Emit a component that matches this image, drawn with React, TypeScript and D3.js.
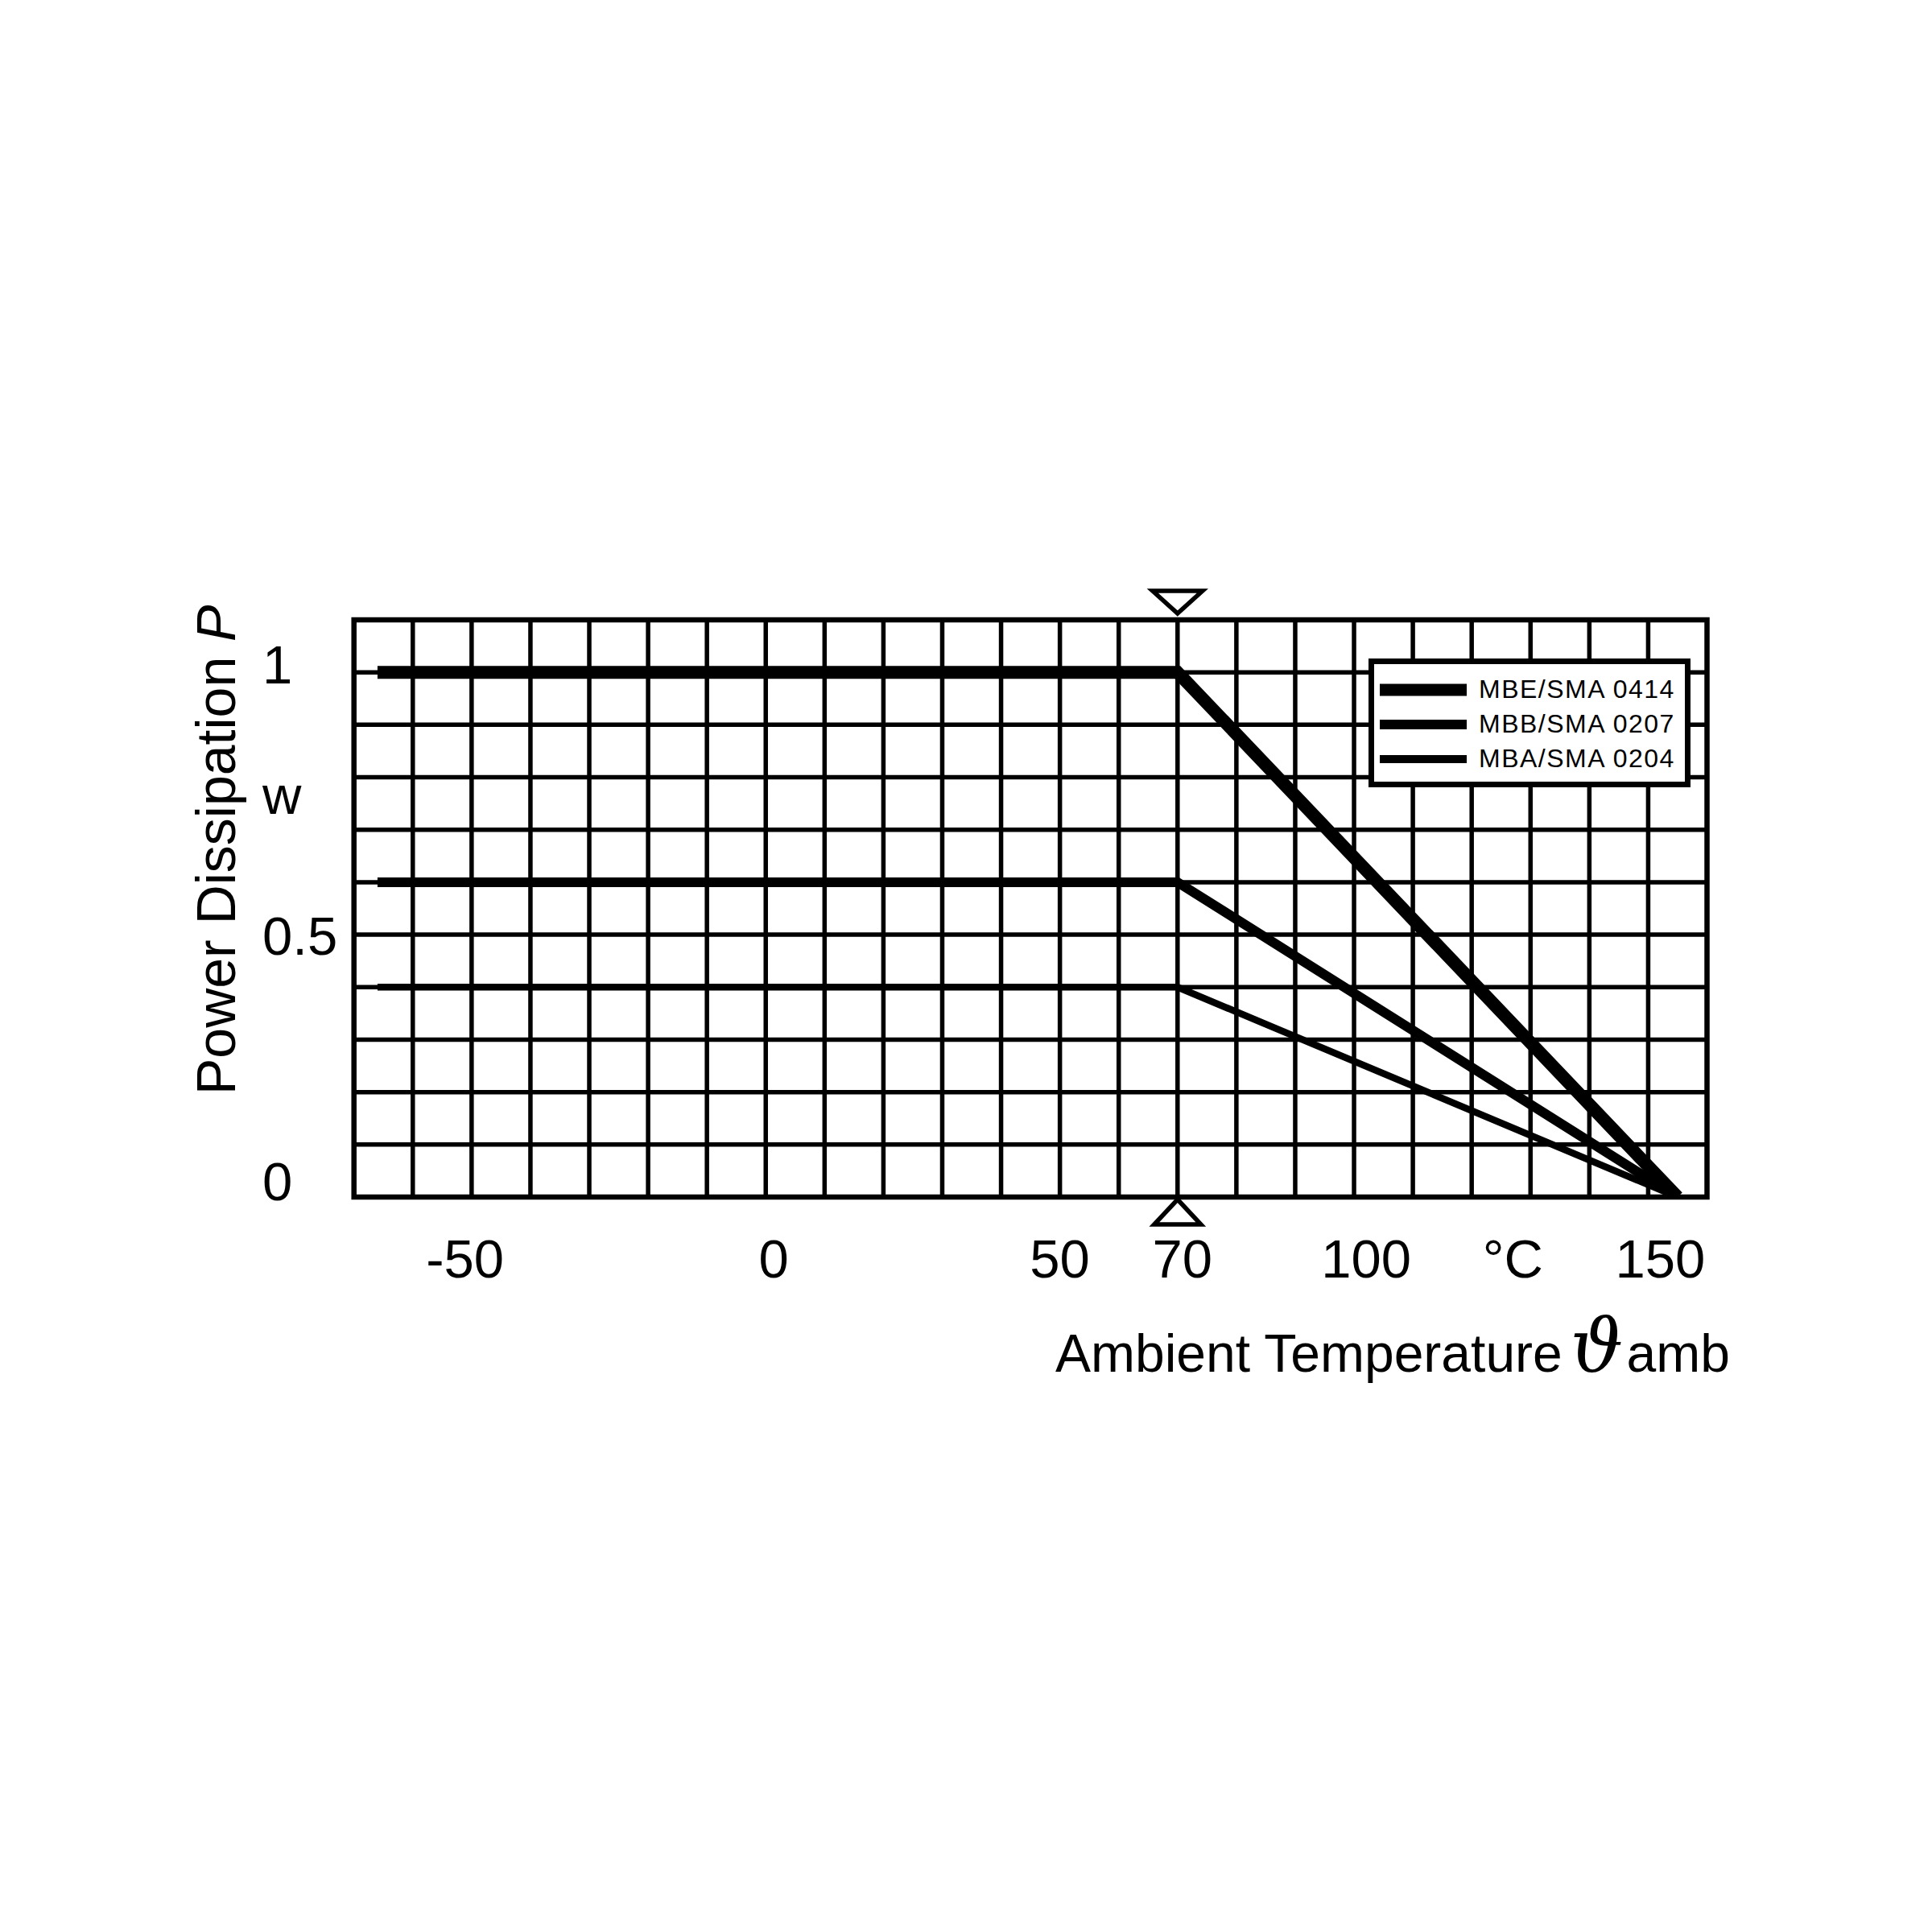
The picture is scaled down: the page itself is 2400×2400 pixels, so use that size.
import React from 'react';
import * as d3 from 'd3';

// ---- data ----
const tempDomain = [-70, 160];
const powerDomain = [0, 1.1];
const gridTempStep = 10;
const gridPowerStep = 0.1;

const seriesNames = ['MBE/SMA 0414', 'MBB/SMA 0207', 'MBA/SMA 0204'];
const curveTemps = [-66, 70, 155];
const powerMBE0414 = [1.0, 1.0, 0];
const powerMBB0207 = [0.6, 0.6, 0];
const powerMBA0204 = [0.4, 0.4, 0];

const xTickValues = [-50, 0, 50, 70, 100, 150];
const xTickLabels = ['-50', '0', '50', '70', '100', '150'];
const xUnitLabel = '°C';
const xUnitAt = 127;
const yTickValues = [0, 0.5, 1];
const yTickLabels = ['0', '0.5', '1'];
const yUnitLabel = 'w';
const ratedTemp = 70;

const xTitle = 'Ambient Temperature';
const xTitleSymbol = 'ϑ';
const xTitleSub = 'amb';
const yTitle = 'Power Dissipation ';
const yTitleSymbol = 'P';

const FONT = "'Liberation Sans', Arial, Helvetica, sans-serif";

export default function App() {
  const x = d3.scaleLinear().domain(tempDomain).range([439.7, 2120.5]);
  const y = d3.scaleLinear().domain(powerDomain).range([1487, 770]);

  const gridTemps = d3.range(tempDomain[0] + gridTempStep, tempDomain[1], gridTempStep);
  const gridPowers = d3.range(1, 11).map((i) => i * gridPowerStep);

  const allSeries = [powerMBE0414, powerMBB0207, powerMBA0204];
  const strokeW = [16, 12, 8.5];
  const legendW = [15, 12, 10];

  const line = d3
    .line<[number, number]>()
    .x((d) => x(d[0]))
    .y((d) => y(d[1]));

  const xNudge: Record<number, number> = { [-50]: 3, 0: 10, 50: 0, 70: 6, 100: 15, 150: 15 };
  const yNudge: Record<number, number> = { 0: 4, 0.5: 25, 1: 14 };

  const xr = x(ratedTemp);
  const tickFs = 67;

  return (
    <svg
      width={2400}
      height={2400}
      style={{ position: 'absolute', left: 0, top: 0, display: 'block', background: '#fff' }}
    >
      <rect x={0} y={0} width={2400} height={2400} fill="#fff" />
      <defs>
        <clipPath id="plotClip">
          <rect x={x(tempDomain[0])} y={y(powerDomain[1])} width={x(tempDomain[1]) - x(tempDomain[0])} height={y(0) - y(powerDomain[1])} />
        </clipPath>
      </defs>

      {/* grid */}
      <g stroke="#000" strokeWidth={5.5}>
        {gridTemps.map((t) => (
          <line key={'v' + t} x1={x(t)} x2={x(t)} y1={y(powerDomain[1])} y2={y(0)} />
        ))}
        {gridPowers.map((p) => (
          <line key={'h' + p} x1={x(tempDomain[0])} x2={x(tempDomain[1])} y1={y(p)} y2={y(p)} />
        ))}
      </g>

      {/* curves */}
      <g clipPath="url(#plotClip)" fill="none" stroke="#000">
        {allSeries.map((vals, i) => (
          <path
            key={seriesNames[i]}
            d={line(curveTemps.map((t, j) => [t, vals[j]] as [number, number])) || ''}
            strokeWidth={strokeW[i]}
            strokeLinejoin="miter"
            strokeLinecap="butt"
          />
        ))}
      </g>

      {/* frame */}
      <rect
        x={x(tempDomain[0])}
        y={y(powerDomain[1])}
        width={x(tempDomain[1]) - x(tempDomain[0])}
        height={y(0) - y(powerDomain[1])}
        fill="none"
        stroke="#000"
        strokeWidth={6.5}
      />

      {/* rated temperature markers */}
      <g fill="#fff" stroke="#000" strokeWidth={5.5} strokeLinejoin="miter">
        <path d={`M${xr - 31},734 L${xr + 31},734 L${xr},762 Z`} />
        <path d={`M${xr},1490 L${xr + 29},1521 L${xr - 29},1521 Z`} />
      </g>

      {/* legend */}
      <g>
        <rect x={1703.5} y={821.5} width={393} height={153} fill="#fff" stroke="#000" strokeWidth={7} />
        {seriesNames.map((name, i) => {
          const cy = [857, 900, 943][i];
          return (
            <g key={name}>
              <line x1={1714} x2={1822} y1={cy} y2={cy} stroke="#000" strokeWidth={legendW[i]} />
              <text x={1837} y={cy + 10} fontFamily={FONT} fontSize={32} letterSpacing={1.5} fill="#000">
                {name}
              </text>
            </g>
          );
        })}
      </g>

      {/* x tick labels */}
      <g fontFamily={FONT} fontSize={tickFs} fill="#000">
        {xTickValues.map((v, i) => {
          const lbl = xTickLabels[i];
          if (lbl.startsWith('-')) {
            return (
              <text key={lbl} x={x(v) + xNudge[v] + 0.556 * tickFs} y={1587} textAnchor="end">
                {lbl}
              </text>
            );
          }
          return (
            <text key={lbl} x={x(v) + (xNudge[v] || 0)} y={1587} textAnchor="middle">
              {lbl}
            </text>
          );
        })}
        <text x={x(xUnitAt)} y={1587} textAnchor="middle">
          {xUnitLabel}
        </text>
      </g>

      {/* y tick labels */}
      <g fontFamily={FONT} fontSize={tickFs} fill="#000">
        {yTickValues.map((v, i) => (
          <text key={yTickLabels[i]} x={326} y={y(v) + yNudge[v]} textAnchor="start">
            {yTickLabels[i]}
          </text>
        ))}
        <text x={326} y={y(0.73)}>{yUnitLabel}</text>
      </g>

      {/* axis titles */}
      <text x={1311} y={1704} fontFamily={FONT} fontSize={66} fill="#000">
        {xTitle}
        <tspan dx={10} fontFamily="'DejaVu Serif', serif" fontStyle="italic" fontSize={92}>
          {xTitleSymbol}
        </tspan>
        <tspan dx={4}>{xTitleSub}</tspan>
      </text>
      <text
        transform="translate(292,1360) rotate(-90)"
        fontFamily={FONT}
        fontSize={68}
        fill="#000"
      >
        {yTitle}
        <tspan fontStyle="italic">{yTitleSymbol}</tspan>
      </text>
    </svg>
  );
}
